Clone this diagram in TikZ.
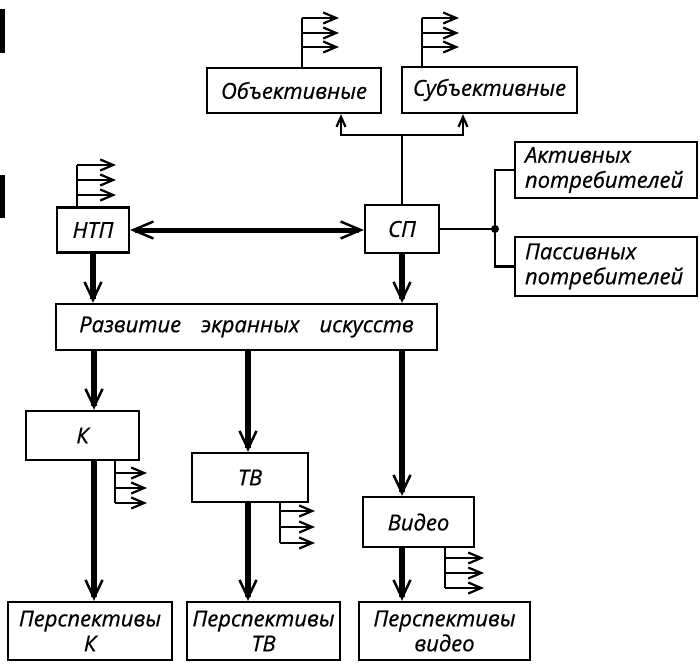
\documentclass[tikz,border=0pt]{standalone}
\usepackage{fontspec}
\setmainfont{Open Sans}
\newfontfamily\labfont{Open Sans}[ItalicFeatures={FakeBold=0.6}]
\usetikzlibrary{arrows.meta}
\begin{document}
\begin{tikzpicture}[x=1pt,y=-1pt,
  box/.style={draw,line width=2.4pt,inner sep=0pt,
    font=\labfont\fontsize{22}{25}\selectfont\itshape},
  conn/.style={line width=2.2pt},
  sarr/.style={conn,-{Straight Barb[length=13pt,width=11pt,line width=2.2pt]}},
  uarr/.style={conn,-{Straight Barb[length=10pt,width=9pt,line width=2.2pt]}},
  bigarr/.style={line width=6pt,-{Straight Barb[length=18pt,width=17pt,line width=2.5pt]}},
  bothbig/.style={line width=5pt,{Straight Barb[length=20pt,width=17pt,line width=2.5pt]}-{Straight Barb[length=20pt,width=17pt,line width=2.5pt]}}
]
\useasboundingbox (0,0) rectangle (700,663);

% scan marks on the left edge
\fill (0,9) rectangle (5,53);
\fill (0,175) rectangle (5,218);

% boxes
\node[box,minimum width=174pt,minimum height=45pt] (obj) at (294,90.5) {Объективные};
\node[box,minimum width=175pt,minimum height=46pt] (subj) at (489.5,90) {Субъективные};
\node[box,minimum width=72pt,minimum height=45pt] (ntp) at (93,230) {НТП};
\node[box,minimum width=74pt,minimum height=48pt] (sp) at (402,229) {СП};
\node[box,minimum width=182pt,minimum height=56pt,text width=162pt,align=left] (akt) at (606,170) {Активных\\потребителей};
\node[box,minimum width=182pt,minimum height=59pt,text width=162pt,align=left] (pas) at (606,266.5) {Пассивных\\потребителей};
\node[box,minimum width=381pt,minimum height=46pt] (razv) at (246.5,327) {Развитие\hskip 20pt экранных\hskip 20pt искусств};
\node[box,minimum width=113pt,minimum height=49pt] (k) at (82.5,435.5) {К};
\node[box,minimum width=116pt,minimum height=49pt] (tv) at (250,477.5) {ТВ};
\node[box,minimum width=111pt,minimum height=50pt] (vid) at (418.5,522) {Видео};
\node[box,minimum width=164pt,minimum height=58pt,align=center] (pk) at (90,631) {Перспективы\\К};
\node[box,minimum width=153pt,minimum height=58pt,align=center] (ptv) at (263.5,631) {Перспективы\\ТВ};
\node[box,minimum width=171pt,minimum height=58pt,align=center] (pvid) at (444.5,631) {Перспективы\\видео};

% output fans
\draw[conn] (obj.north -| 302,0) -- (302,18);
\foreach \yy in {18,33,47} \draw[sarr] (302,\yy) -- (339,\yy);
\draw[conn] (subj.north -| 422,0) -- (422,18);
\foreach \yy in {18,33,47} \draw[sarr] (422,\yy) -- (459,\yy);
\draw[conn] (ntp.north -| 77,0) -- (77,165);
\foreach \yy in {165,180,195} \draw[sarr] (77,\yy) -- (116,\yy);
\draw[conn] (k.south -| 115,0) -- (115,503);
\foreach \yy in {473,488,503} \draw[sarr] (115,\yy) -- (147,\yy);
\draw[conn] (tv.south -| 280,0) -- (280,543);
\foreach \yy in {511,527,543} \draw[sarr] (280,\yy) -- (315,\yy);
\draw[conn] (vid.south -| 445,0) -- (445,588);
\foreach \yy in {558,573,588} \draw[sarr] (445,\yy) -- (484,\yy);

% SP to Objective / Subjective
\coordinate (bus) at (402,135);
\draw[conn] (sp.north) -- (bus);
\draw[uarr] (bus) -| (obj.south -| 341,0);
\draw[uarr] (bus) -| (subj.south -| 463,0);

% SP to consumers
\coordinate (jn) at (495,229);
\draw[conn] (sp.east) -- (jn);
\fill (jn) circle (4pt);
\draw[conn] (jn) |- (akt.west);
\draw[conn] (jn) |- (pas.west);

% NTP <-> SP
\draw[bothbig] (ntp.east) -- (ntp.east -| sp.west);

% to development
\draw[bigarr] (ntp.south) -- (ntp.south |- razv.north);
\draw[bigarr] (sp.south) -- (sp.south |- razv.north);

% from development
\draw[bigarr] (razv.south -| 94,0) -- (k.north -| 94,0);
\draw[bigarr] (razv.south -| 248,0) -- (tv.north -| 248,0);
\draw[bigarr] (razv.south -| 402,0) -- (vid.north -| 402,0);

% to perspectives
\draw[bigarr] (k.south -| 94,0) -- (pk.north -| 94,0);
\draw[bigarr] (tv.south -| 248,0) -- (ptv.north -| 248,0);
\draw[bigarr] (vid.south -| 402,0) -- (pvid.north -| 402,0);
\end{tikzpicture}
\end{document}
